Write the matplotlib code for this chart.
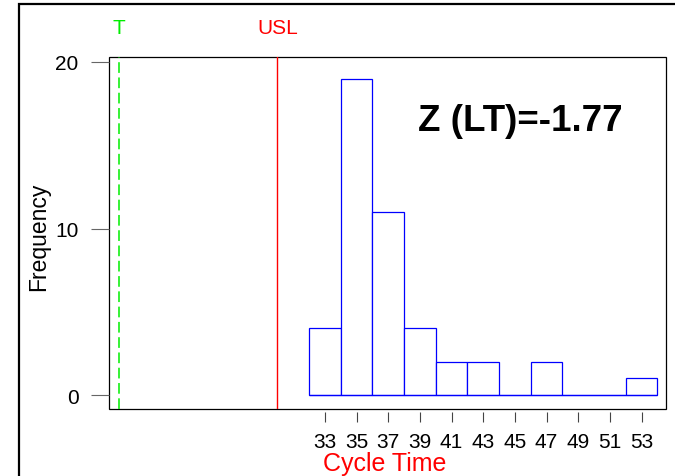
import matplotlib
matplotlib.use("Agg")
import matplotlib.pyplot as plt
import matplotlib.transforms as mtransforms
from matplotlib.patches import Rectangle

plt.rcParams['font.family'] = ['Liberation Sans', 'DejaVu Sans']

# histogram of cycle time, bins of width 2
bin_edges = [32, 34, 36, 38, 40, 42, 44, 46, 48, 50, 52, 54]
counts = [4, 19, 11, 4, 2, 2, 0, 2, 0, 0, 1]
x_ticks = [33, 35, 37, 39, 41, 43, 45, 47, 49, 51, 53]
y_ticks = [0, 10, 20]
target = 20     # T
usl = 30        # USL
z_lt = -1.77

fig = plt.figure(figsize=(6.75, 4.77), dpi=100)
ax = fig.add_axes([109/675, 1-410/477, 557/675, 352/477])

lefts = bin_edges[:-1]
widths = [b - a for a, b in zip(bin_edges[:-1], bin_edges[1:])]
ax.bar(lefts, counts, width=widths, align='edge', facecolor='white',
       edgecolor='#0000ff', linewidth=0.9)
# empty bins still show their bottom edge
ax.hlines(0, bin_edges[0], bin_edges[-1], color='#0000ff', linewidth=0.9)

ax.axvline(target, color='#00ee00', linewidth=1.1, dashes=(7, 3))
ax.axvline(usl, color='#ff0000', linewidth=1.0)

ax.set_xlim(19.36, 54.54)
ax.set_ylim(-0.84, 20.3)

for s in ax.spines.values():
    s.set_visible(False)
ax.patch.set_edgecolor('black')
ax.patch.set_linewidth(0.9)
ax.spines['bottom'].set_position(('outward', 2.2))

ax.set_xticks(x_ticks)
ax.set_yticks(y_ticks)
ax.tick_params(axis='x', length=7.5, width=0.8, color='#444444', pad=7,
               labelsize=15)
ax.tick_params(axis='y', length=13, width=0.8, color='#666666', pad=9,
               labelsize=15)

trans = mtransforms.blended_transform_factory(ax.transData, ax.transAxes)
ax.text(target, 1.085, 'T', color='#00ee00', fontsize=15, ha='center',
        va='center', transform=trans)
ax.text(usl, 1.085, 'USL', color='#ff0000', fontsize=15, ha='center',
        va='center', transform=trans)

ax.text(0.738, 0.82, 'Z (LT)=%.2f' % z_lt, fontsize=26.5, fontweight='bold',
        ha='center', va='center', transform=ax.transAxes)

fig.text(39/675, 1-237/477, 'Frequency', rotation=90, fontsize=16.5,
         ha='center', va='center')
fig.text(385/675, 1-452/477, 'Cycle Time', color='#ff0000', fontsize=18,
         ha='center', va='top')

# outer frame, cut by the image edge on the right and bottom
fig.patches.append(Rectangle((19/675, -0.1), 1.2, 1-5/477+0.1,
                             transform=fig.transFigure, fill=False,
                             edgecolor='black', linewidth=1.6))

fig.savefig('out.png', dpi=100)
